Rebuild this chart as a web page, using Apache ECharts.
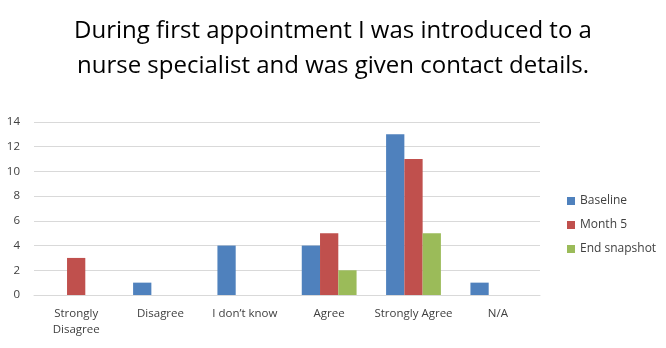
<!DOCTYPE html>
<html><head><meta charset="utf-8">
<script src="https://cdn.jsdelivr.net/npm/echarts@6/dist/echarts.min.js"></script>
<style>html,body{margin:0;padding:0;background:#fff}#c{width:666px;height:348px}</style>
</head><body><div id="c"></div>
<script>
const categories = ["Strongly\nDisagree", "Disagree", "I don\u2019t know", "Agree", "Strongly Agree", "N/A"];
const baseline = [0, 1, 4, 4, 13, 1];
const month5 = [3, 0, 0, 5, 11, 0];
const endSnapshot = [0, 0, 0, 2, 5, 0];
const titleText = "During first appointment I was introduced to a\nnurse specialist and was given contact details.";
const chart = echarts.init(document.getElementById('c'));
const font = "Open Sans";
chart.setOption({
  animation: false,
  title: {
    text: titleText, left: 'center', top: 9,
    textStyle: {fontFamily: font, fontSize: 24, fontWeight: 'normal', color: '#000', lineHeight: 35}
  },
  legend: {
    orient: 'vertical', left: 562, top: 190, itemWidth: 8, itemHeight: 8, itemGap: 12,
    icon: 'rect',
    textStyle: {fontFamily: font, fontSize: 12, color: '#404040'},
    data: ['Baseline', 'Month 5', 'End snapshot']
  },
  grid: {left: 34, top: 122, width: 506, height: 173, containLabel: false},
  xAxis: {
    type: 'category', data: categories,
    axisLine: {lineStyle: {color: '#d9d9d9'}}, axisTick: {show: false},
    axisLabel: {fontFamily: font, fontSize: 11.5, color: '#404040', margin: 11, lineHeight: 16, interval: 0}
  },
  yAxis: {
    type: 'value', min: 0, max: 14, interval: 2,
    axisLine: {show: false}, axisTick: {show: false},
    splitLine: {lineStyle: {color: '#d9d9d9'}},
    axisLabel: {fontFamily: font, fontSize: 11.5, color: '#404040', margin: 14}
  },
  series: [
    {name: 'Baseline', type: 'bar', data: baseline, itemStyle: {color: '#4F81BD'}, barGap: '0%', barCategoryGap: '35%'},
    {name: 'Month 5', type: 'bar', data: month5, itemStyle: {color: '#C0504D'}},
    {name: 'End snapshot', type: 'bar', data: endSnapshot, itemStyle: {color: '#9BBB59'}}
  ]
});
</script></body></html>
